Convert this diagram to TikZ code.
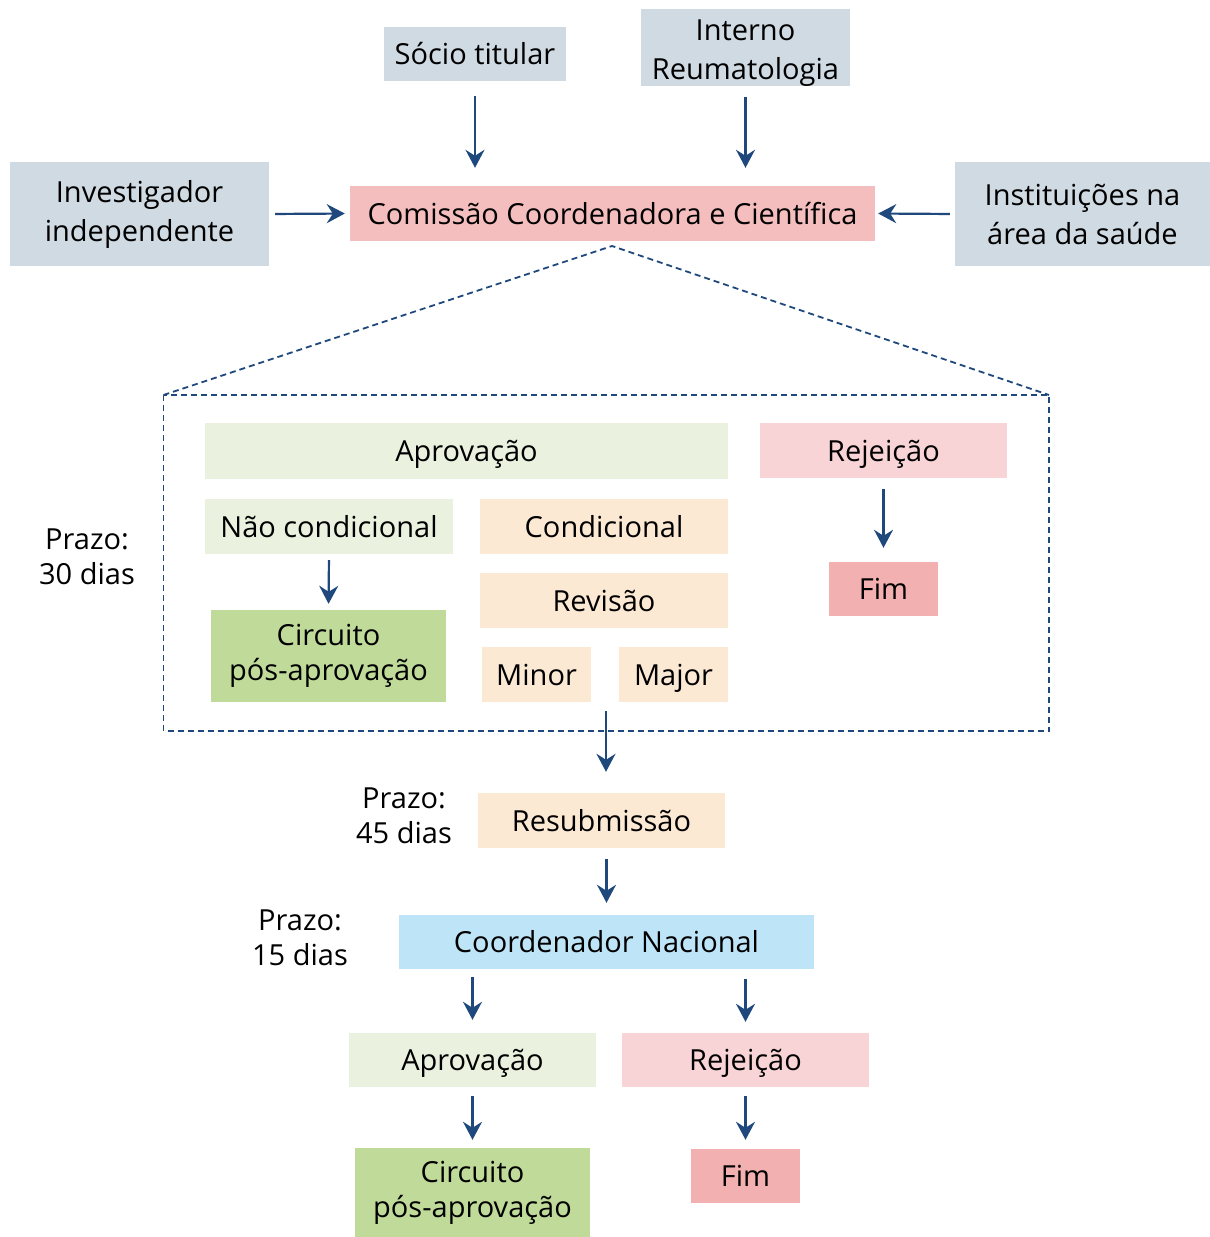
\documentclass[tikz,border=0pt]{standalone}
\usepackage{fontspec}
\setmainfont{Open Sans}
\usetikzlibrary{arrows.meta}
\definecolor{grayb}{RGB}{208,218,227}
\definecolor{pinkc}{RGB}{245,190,190}
\definecolor{pinkl}{RGB}{248,212,214}
\definecolor{pinkf}{RGB}{242,176,176}
\definecolor{greenl}{RGB}{234,242,223}
\definecolor{greend}{RGB}{192,218,154}
\definecolor{orangel}{RGB}{252,233,212}
\definecolor{bluel}{RGB}{190,228,247}
\definecolor{arrowc}{RGB}{31,73,125}
\tikzset{
  box/.style={inner sep=0pt, align=center, font=\fontsize{29}{36}\selectfont},
  one/.style={box, text height=24pt, text depth=3pt},
  two/.style={box, font=\fontsize{29}{39}\selectfont},
  lbl/.style={inner sep=0pt, align=center, font=\fontsize{29}{35}\selectfont},
  arr/.style={draw=arrowc, line width=2.2pt, -{Stealth[length=18pt,width=19pt,inset=6pt]}},
  dsh/.style={draw=arrowc, line width=1.8pt, dash pattern=on 6pt off 4pt},
}
\begin{document}
\begin{tikzpicture}[x=1pt,y=-1pt]
\useasboundingbox (0,0) rectangle (1210,1237);
% top
\node[one, fill=grayb, minimum width=182pt, minimum height=54pt] (socio) at (475,54) {Sócio titular};
\node[two, fill=grayb, minimum width=209pt, minimum height=77pt, text height=66pt, text depth=2pt] (interno) at (745.5,47) {Interno\\Reumatologia};
\node[two, fill=grayb, minimum width=259pt, minimum height=104pt] (invest) at (139.5,214) {Investigador\\independente};
\node[one, fill=pinkc, minimum width=525pt, minimum height=55pt] (com) at (612.5,213.5) {Comissão Coordenadora e Científica};
\node[two, fill=grayb, minimum width=255pt, minimum height=104pt] (inst) at (1082.5,214) {Instituições na\\área da saúde};
\draw[arr, shorten <=15pt, shorten >=18pt] (socio.south) -- (socio.south |- com.north);
\draw[arr, shorten <=11pt, shorten >=18pt] (interno.south) -- (interno.south |- com.north);
\draw[arr, shorten <=6pt, shorten >=5pt] (invest.east) -- (com.west);
\draw[arr, shorten <=5pt, shorten >=3pt] (inst.west) -- (com.east);
% dashed region
\coordinate (apex) at (612,246);
\coordinate (bl) at (163.5,395);
\coordinate (br) at (1049,395);
\draw[dsh] (bl) -- (apex) -- (br);
\draw[dsh] (163.5,395) rectangle (1049,731);
% inside
\node[one, fill=greenl, minimum width=523pt, minimum height=56pt] (aprov) at (466.5,451) {Aprovação};
\node[one, fill=pinkl, minimum width=247pt, minimum height=55pt] (rej) at (883.5,450.5) {Rejeição};
\node[one, fill=greenl, minimum width=248pt, minimum height=55pt] (naocond) at (329,526.5) {Não condicional};
\node[one, fill=orangel, minimum width=248pt, minimum height=55pt] (cond) at (604,526.5) {Condicional};
\node[one, fill=orangel, minimum width=248pt, minimum height=55pt] (rev) at (604,600.5) {Revisão};
\node[one, fill=orangel, minimum width=109pt, minimum height=55pt] (minor) at (536.5,674.5) {Minor};
\node[one, fill=orangel, minimum width=109pt, minimum height=55pt] (major) at (673.5,674.5) {Major};
\node[box, fill=greend, minimum width=235pt, minimum height=92pt, font=\fontsize{29}{35}\selectfont] (circ1) at (328.5,656) {Circuito\\pós-aprovação};
\node[one, fill=pinkf, minimum width=109pt, minimum height=54pt] (fim1) at (883.5,589) {Fim};
\draw[arr, shorten <=6pt, shorten >=6pt] (naocond.south) -- (circ1.north);
\draw[arr, shorten <=11pt, shorten >=14pt] (rej.south) -- (fim1.north);
\node[lbl] (p30) at (87,557) {Prazo:\\30 dias};
% lower
\node[one, fill=orangel, minimum width=247pt, minimum height=55pt] (resub) at (601.5,820.5) {Resubmissão};
\coordinate (mm) at (606,702);
\draw[arr, shorten <=9pt, shorten >=21pt] (mm) -- (mm |- resub.north);
\node[lbl] (p45) at (404,816) {Prazo:\\45 dias};
\node[one, fill=bluel, minimum width=415pt, minimum height=54pt] (coord) at (606.5,942) {Coordenador Nacional};
\draw[arr, shorten <=11pt, shorten >=12pt] (resub.south -| coord.north) -- (coord.north);
\node[lbl] (p15) at (300,938) {Prazo:\\15 dias};
\node[one, fill=greenl, minimum width=247pt, minimum height=54pt] (aprov2) at (472.5,1060) {Aprovação};
\node[one, fill=pinkl, minimum width=247pt, minimum height=54pt] (rej2) at (745.5,1060) {Rejeição};
\draw[arr, shorten <=8pt, shorten >=13pt] (aprov2.north |- coord.south) -- (aprov2.north);
\draw[arr, shorten <=10pt, shorten >=11pt] (rej2.north |- coord.south) -- (rej2.north);
\node[box, fill=greend, minimum width=235pt, minimum height=89pt, font=\fontsize{29}{35}\selectfont] (circ2) at (472.5,1192.5) {Circuito\\pós-aprovação};
\node[one, fill=pinkf, minimum width=109pt, minimum height=54pt] (fim2) at (745.5,1176) {Fim};
\draw[arr, shorten <=9pt, shorten >=8pt] (aprov2.south) -- (circ2.north);
\draw[arr, shorten <=9pt, shorten >=9pt] (rej2.south) -- (fim2.north);
\end{tikzpicture}
\end{document}
